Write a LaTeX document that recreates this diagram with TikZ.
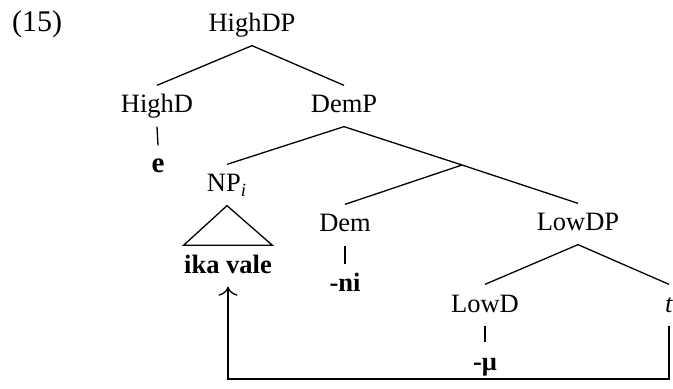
\documentclass[tikz,border=0pt]{standalone}
\usepackage{fontspec}
\setmainfont{Liberation Serif}
\usetikzlibrary{arrows.meta}
\begin{document}
\begin{tikzpicture}[x=.5pt,y=-.5pt,line width=.65pt,>={To[scale=1.5]},
  lab/.style={inner xsep=0pt,inner ysep=4.5pt,text height=9pt,text depth=2pt,
    font=\fontsize{13.25}{16}\selectfont}]
 \useasboundingbox (0,0) rectangle (673,389);
 \node[lab,font=\fontsize{15}{18}\selectfont] (num) at (37,25) {(15)};
 % upper part
 \node[lab] (hdp) at (252,25) {HighDP};
 \node[lab] (hd) at (157,106) {HighD};
 \node[lab] (demp) at (344,106) {DemP};
 \node[lab,font=\fontsize{14.5}{17}\selectfont] (e) at (158,166) {\textbf{e}};
 \draw (hdp.south)--(hd.north);
 \draw (hdp.south)--(demp.north);
 \draw (hd.south)--(e.north);
 % DemP and below
 \coordinate (mid) at (462,165);
 \node[lab] (np) at (227,185) {NP\textsubscript{\itshape i}};
 \node[lab] (ika) at (228,266) {\textbf{ika vale}};
 \node[lab] (dem) at (345,225) {Dem};
 \node[lab] (ni) at (345,285) {\textbf{-ni}};
 \node[lab] (ldp) at (578,224) {LowDP};
 \draw (demp.south)--(np.north);
 \draw (demp.south)--(mid);
 \draw (mid)--(dem.north);
 \draw (mid)--(ldp.north);
 \draw (np.south)--(ika.north west)--(ika.north east)--cycle;
 \draw (dem.south)--(ni.north);
 % LowDP
 \node[lab] (ld) at (485,305) {LowD};
 \node[lab] (tr) at (669,305) {\textit{t}};
 \node[lab] (mu) at (485,363) {\textbf{-μ}};
 \draw (ldp.south)--(ld.north);
 \draw (ldp.south)--(tr.north);
 \draw (ld.south)--(mu.north);
 % movement
 \draw[->] (tr.south)--(tr.south|-0,379)-|(ika.south);
\end{tikzpicture}
\end{document}
